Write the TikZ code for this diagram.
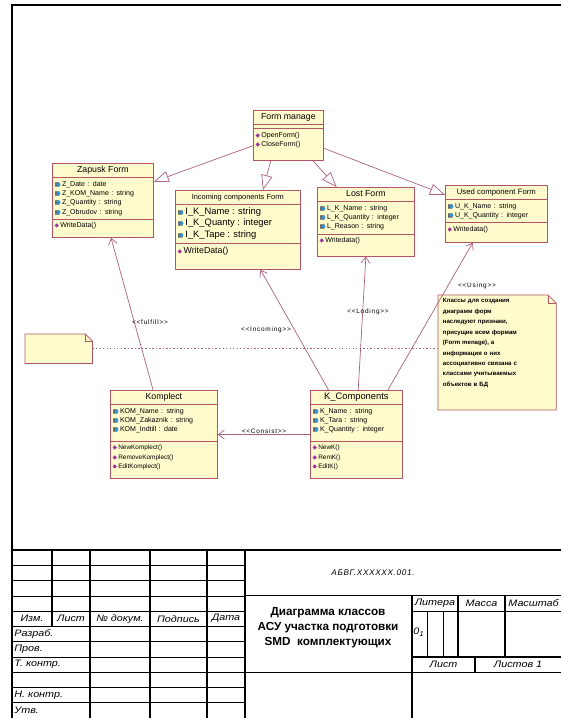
\documentclass[tikz,border=0pt]{standalone}
\usepackage{fontspec}
\setmainfont{Liberation Sans}
\newfontfamily\symfont{DejaVu Sans}
\usetikzlibrary{shapes.multipart,arrows.meta,calc,backgrounds}

\definecolor{clsfill}{RGB}{255,251,204}
\definecolor{clsline}{RGB}{178,84,100}
\definecolor{lnk}{RGB}{172,96,128}
\definecolor{icoblue}{RGB}{40,150,220}
\definecolor{icogray}{RGB}{105,105,105}
\definecolor{icopurp}{RGB}{160,50,160}

\newcommand{\attr}{\strut{\symfont\fontsize{5}{5}\selectfont\textcolor{icogray}{■}\kern-3.3pt\textcolor{icoblue}{◆}}\,}
\newcommand{\meth}{\strut{\symfont\fontsize{5}{5}\selectfont\textcolor{icopurp}{◆}}\,}
\newcommand{\padd}[1]{\rule[-#1]{0pt}{#1}}
\newcommand{\clsname}[2][7.5]{\fontsize{#1}{8.5}\selectfont\hbox to\hsize{\hfil\strut#2\hfil}}
\newcommand{\stype}[1]{<{}<#1>{}>}
\newcommand{\foldnote}[2]{%
  \filldraw[fill=clsfill, draw=clsline, line width=0.6pt] (#1.north west) -- ($(#1.north east)+(-#2,0)$)
    -- ($(#1.north east)+(0,#2)$) -- (#1.south east) -- (#1.south west) -- cycle;
  \draw[clsline, line width=0.6pt] ($(#1.north east)+(-#2,0)$) -- ($(#1.north east)+(-#2,#2)$) -- ($(#1.north east)+(0,#2)$);}

\begin{document}
\begin{tikzpicture}[x=0.03cm, y=-0.03cm,
  cls/.style={rectangle split, rectangle split parts=3, draw=clsline, fill=clsfill,
    line width=0.6pt, inner xsep=2pt, inner ysep=1.5pt, align=left, anchor=north west,
    font=\fontsize{6}{8}\selectfont, rectangle split empty part height=1.5pt},
  gen/.style={draw=lnk, line width=0.6pt, -{Triangle[open,length=4.5mm,width=3.4mm]}},
  dep/.style={draw=lnk, line width=0.6pt, -{Straight Barb[length=1.8mm,width=2.6mm]}},
  stereo/.style={font=\fontsize{5.5}{6}\selectfont\addfontfeature{LetterSpace=12}, inner sep=1pt},
  notebox/.style={anchor=north west, text width=3.25cm, inner xsep=4pt, inner ysep=3pt,
    align=left, font=\fontsize{5.2}{8.9}\selectfont\bfseries},
  tbl/.style={line width=0.5pt},
  tbk/.style={line width=1pt},
  gost/.style={font=\fontsize{8}{9}\selectfont\itshape\addfontfeature{FakeStretch=1.15}, inner sep=1pt}]
  \useasboundingbox (0,0) rectangle (561,718);
  % frame
  \draw[line width=1.2pt] (12,718) -- (12,5) -- (561,5);
  % classes
  \node[cls, text width=1.96cm] (fm) at (253,110)
    {\clsname{Form manage}\nodepart{two}\nodepart{three}\meth OpenForm()\\\meth CloseForm()\padd{10pt}};
  \node[cls, text width=2.89cm] (zap) at (52,163)
    {\clsname{Zapusk Form}\nodepart{two}\attr Z\_Date : date\\\attr Z\_KOM\_Name : string\\\attr Z\_Quantity : string\\\attr Z\_Obrudov : string
     \nodepart{three}\meth WriteData()\padd{6.4pt}};
  \node[cls, text width=3.61cm] (inc) at (175,190)
    {\clsname[6.3]{Incoming components Form}\nodepart{two}\fontsize{8}{9.5}\selectfont\attr I\_K\_Name : string\\\attr I\_K\_Quanty : integer\\\attr I\_K\_Tape : string
     \nodepart{three}\fontsize{7.5}{9.5}\selectfont\meth WriteData()\padd{12pt}};
  \node[cls, text width=2.77cm] (lost) at (317,187)
    {\clsname{Lost Form}\nodepart{two}\attr L\_K\_Name : string\\\attr L\_K\_Quantity : integer\\\attr L\_Reason : string
     \nodepart{three}\meth Writedata()\padd{9.8pt}};
  \node[cls, text width=2.92cm] (used) at (445,185)
    {\clsname[6.6]{Used component Form}\nodepart{two}\attr U\_K\_Name : string\\\attr U\_K\_Quantity : integer
     \nodepart{three}\meth Writedata()\padd{7.7pt}};
  \node[cls, text width=3.07cm] (kom) at (110,390)
    {\clsname{Komplect}\nodepart{two}\attr KOM\_Name : string\\\attr KOM\_Zakaznik : string\\\attr KOM\_Indtill : date\padd{6pt}
     \nodepart{three}\fontsize{5.5}{8}\selectfont\meth NewKomplect()\\\meth RemoveKomplect()\\\meth EditKomplect()\padd{7pt}};
  \node[cls, text width=2.62cm] (kc) at (310,390)
    {\clsname[8]{K\_Components}\nodepart{two}\attr K\_Name : string\\\attr K\_Tara : string\\\attr K\_Quantity : integer\padd{6pt}
     \nodepart{three}\fontsize{5.5}{8}\selectfont\meth NewK()\\\meth RemK()\\\meth EditK()\padd{7pt}};
  % notes
  \node[anchor=north west, minimum width=2.01cm, minimum height=0.87cm, inner sep=0pt] (sn) at (25,334) {};
  \node[notebox] (nt) at (438,295)
    {Классы для создания\\диаграмм форм\\наследуют признаки,\\присущие всем формам\\(Form menage), а\\информация о них\\ассоциативно связана с\\классами учитываемых\\объектов в БД\padd{17pt}};
  \begin{scope}[on background layer]
    \foldnote{nt}{8}
    \foldnote{sn}{7}
  \end{scope}
  \draw[lnk, line width=0.6pt, dash pattern=on 1.2pt off 1.8pt] (sn.east) -- (sn.east -| nt.west);
  % generalizations
  \draw[gen] ($(fm.south west)!0.3!(fm.north west)$) -- ($(zap.north east)!0.25!(zap.south east)$);
  \draw[gen] ($(fm.south west)!0.25!(fm.south east)$) -- ($(inc.north west)!0.7!(inc.north east)$);
  \draw[gen] ($(fm.south west)!0.85!(fm.south east)$) -- ($(lost.north west)!0.2!(lost.north east)$);
  \draw[gen] ($(fm.north east)!0.75!(fm.south east)$) -- ($(used.north west)!0.17!(used.south west)$);
  % dependencies
  \draw[dep] ($(kom.north west)!0.4!(kom.north east)$) -- ($(zap.south west)!0.58!(zap.south east)$);
  \draw[dep] ($(kc.north west)!0.2!(kc.north east)$) -- ($(inc.south west)!0.68!(inc.south east)$);
  \draw[dep] ($(kc.north west)!0.52!(kc.north east)$) -- ($(lost.south west)!0.5!(lost.south east)$);
  \draw[dep] ($(kc.north west)!0.84!(kc.north east)$) -- ($(used.south west)!0.27!(used.south east)$);
  \draw[dep] (kc.west) -- (kom.east);
  \node[stereo] (lfulfill) at (150,322) {\stype{fulfill}};
  \node[stereo] (lincoming) at (266,330) {\stype{Incoming}};
  \node[stereo] (lloding) at (368,312) {\stype{Loding}};
  \node[stereo] (lusing) at (477,286) {\stype{Using}};
  \node[stereo] (lconsist) at (264,431) {\stype{Consist}};
  % title block: left table
  \draw[tbk] (12,550) -- (561,550);
  \foreach \k in {1,...,10} \draw[tbl] (12,{550+\k*15.27}) -- (245,{550+\k*15.27});
  \draw[tbk] (12,611.1) -- (245,611.1);
  \draw[tbk] (12,626.4) -- (245,626.4);
  \draw[tbk] (52,550) -- (52,626.4);
  \foreach \x in {90,150,207} \draw[tbk] (\x,550) -- (\x,718);
  \draw[tbk] (245,550) -- (245,718);
  % title block: right part
  \draw[tbk] (245,595.8) -- (561,595.8);
  \draw[tbl] (412,611.1) -- (561,611.1);
  \draw[tbk] (412,657) -- (561,657);
  \draw[tbk] (245,672.2) -- (561,672.2);
  \draw[tbk] (412,595.8) -- (412,718);
  \draw[tbk] (458,595.8) -- (458,657);
  \draw[tbk] (505,595.8) -- (505,657);
  \draw[tbl] (427,611.1) -- (427,657);
  \draw[tbl] (443,611.1) -- (443,657);
  \draw[tbk] (475,657) -- (475,672.2);
  \node[gost] (izm) at (32,618.7) {Изм.};
  \node[gost] (lst) at (71,618.7) {Лист};
  \node[gost] (ndoc) at (120,618.7) {№ докум.};
  \node[gost] (podp) at (178.5,618.7) {Подпись};
  \node[gost] (dat) at (226,618.7) {Дата};
  \node[gost, anchor=west] (razr) at (13,634) {Разраб.};
  \node[gost, anchor=west] (prov) at (13,649.3) {Пров.};
  \node[gost, anchor=west] (tkontr) at (13,664.5) {Т. контр.};
  \node[gost, anchor=west] (nkontr) at (13,695) {Н. контр.};
  \node[gost, anchor=west] (utv) at (13,710.3) {Утв.};
  \node[font=\fontsize{7}{8}\selectfont\itshape\addfontfeature{LetterSpace=8}] (oboz) at (373,573) {АБВГ.XXXXXX.001.};
  \node[font=\fontsize{10}{12.8}\selectfont\bfseries, align=center] (ttl) at (328,628)
    {Диаграмма классов\\АСУ участка подготовки\\SMD~~комплектующих};
  \node[gost] (litera) at (435,603.5) {Литера};
  \node[gost] (massa) at (481.5,603.5) {Масса};
  \node[gost, anchor=west] (mashtab) at (507,603.5) {Масштаб};
  \node[gost, anchor=west] (lit) at (412,632) {0\textsubscript{1}};
  \node[gost] (list) at (443.5,664.6) {Лист};
  \node[gost] (listov) at (518,664.6) {Листов 1};
\end{tikzpicture}
\end{document}
